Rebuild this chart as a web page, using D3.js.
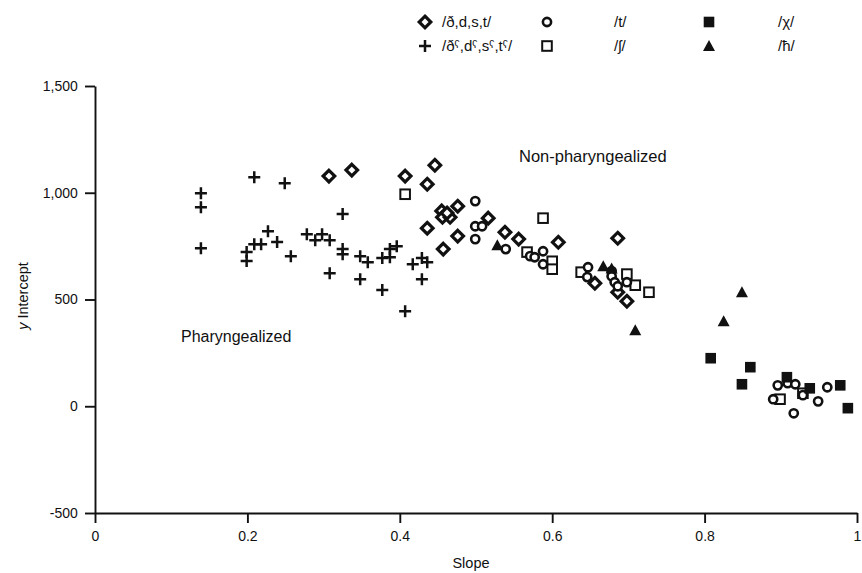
<!DOCTYPE html>
<html><head><meta charset="utf-8">
<script src="https://cdn.jsdelivr.net/npm/d3@7"></script>
<style>
html,body{margin:0;padding:0;background:#fff;}
text{font-family:"Liberation Sans",Arial,sans-serif;fill:#111;}
</style></head>
<body>
<svg id="c" width="862" height="573"></svg>
<script>
// ---- data: [slope, y intercept] ----
const plain = [ // /ð,d,s,t/ diamonds
 [0.307,1078],[0.337,1106],[0.407,1078],[0.446,1129],[0.436,1040],
 [0.455,915],[0.456,885],[0.466,885],[0.462,905],[0.476,937],
 [0.436,834],[0.476,797],[0.457,736],[0.516,881],[0.538,815],
 [0.556,783],[0.608,768],[0.686,787],[0.698,492],[0.656,576],[0.686,534]
];
const phar = [ // /ðˤ,dˤ,sˤ,tˤ/ pluses
 [0.139,998],[0.139,932],[0.139,740],[0.209,1073],[0.249,1045],
 [0.199,722],[0.199,680],[0.209,759],[0.218,759],[0.227,820],
 [0.239,769],[0.257,703],[0.278,806],[0.289,778],[0.298,806],
 [0.308,778],[0.325,900],[0.325,736],[0.325,712],[0.308,623],
 [0.348,703],[0.358,675],[0.348,595],[0.377,694],[0.387,736],
 [0.387,698],[0.396,750],[0.377,544],[0.407,445],[0.417,665],
 [0.429,694],[0.436,675],[0.429,595]
];
const tSer = [ // /t/ open circles
 [0.499,961],[0.499,843],[0.508,843],[0.499,783],[0.539,736],
 [0.571,703],[0.577,698],[0.588,726],[0.588,665],[0.647,651],
 [0.646,605],[0.678,633],[0.678,609],[0.682,581],[0.686,562],
 [0.698,581],[0.896,98],[0.909,108],[0.919,103],[0.890,33],
 [0.929,52],[0.949,23],[0.961,89],[0.917,-33]
];
const shSer = [ // /ʃ/ open squares
 [0.407,993],[0.588,881],[0.567,722],[0.600,679],[0.600,642],
 [0.638,628],[0.698,619],[0.709,567],[0.727,534],[0.899,33],[0.929,61]
];
const chiSer = [ // /χ/ filled squares
 [0.808,225],[0.860,183],[0.849,103],[0.908,136],[0.938,84],[0.978,98],[0.988,-9]
];
const hSer = [ // /ħ/ triangles
 [0.528,754],[0.667,656],[0.678,645],[0.709,356],[0.825,398],[0.849,534]
];
const xTicks = [0,0.2,0.4,0.6,0.8,1];
const xTickLabels = ["0","0.2","0.4","0.6","0.8","1"];
const yTicks = [-500,0,500,1000,1500];
const yTickLabels = ["-500","0","500","1,000","1,500"];
const legendItems = [
 {label:"/ð,d,s,t/", type:"diamond"},
 {label:"/t/", type:"circle"},
 {label:"/χ/", type:"fsquare"},
 {label:"/ðˤ,dˤ,sˤ,tˤ/", type:"plus"},
 {label:"/ʃ/", type:"osquare"},
 {label:"/ħ/", type:"triangle"}
];
// ---------------------------------------
const ink = "#111";
const svg = d3.select("#c");
const x = d3.scaleLinear().domain([0,1]).range([95,857]);
const y = d3.scaleLinear().domain([-500,1500]).range([513,86]);

const gx = svg.append("g").attr("transform","translate(0,513)")
  .call(d3.axisBottom(x).tickValues(xTicks).tickSize(10).tickSizeOuter(0)
    .tickFormat((d,i)=>xTickLabels[i]));
const gy = svg.append("g").attr("transform","translate(95,0)")
  .call(d3.axisLeft(y).tickValues(yTicks).tickSize(10).tickSizeOuter(0)
    .tickFormat((d,i)=>yTickLabels[i]));
[gx,gy].forEach(g=>{
  g.selectAll("path,line").attr("stroke",ink).attr("stroke-width",1.9);
  g.selectAll("text").attr("font-size",14).attr("fill",ink)
   .style("font-family","'Liberation Sans',Arial,sans-serif");
});
gx.selectAll("text").attr("dy","1.05em");
gy.selectAll("text").attr("dx","-0.3em");

svg.append("text").attr("x",471).attr("y",568).attr("text-anchor","middle")
  .attr("font-size",14.5).text("Slope");
const yl = svg.append("text").attr("transform","translate(28,296) rotate(-90)")
  .attr("text-anchor","middle").attr("font-size",14.5);
yl.append("tspan").attr("font-style","italic").text("y");
yl.append("tspan").text(" Intercept");

svg.append("text").attr("x",519).attr("y",162).attr("font-size",16.5).text("Non-pharyngealized");
svg.append("text").attr("x",181).attr("y",342).attr("font-size",16).text("Pharyngealized");

function drawMarker(g, type){
  if(type==="diamond"){
    g.append("path").attr("d","M0,-5.8L5.8,0L0,5.8L-5.8,0Z")
     .attr("fill","#fff").attr("stroke",ink).attr("stroke-width",3.2);
  } else if(type==="circle"){
    g.append("circle").attr("r",4.1).attr("fill","#fff").attr("stroke",ink).attr("stroke-width",2.6);
  } else if(type==="osquare"){
    g.append("rect").attr("x",-4.8).attr("y",-4.8).attr("width",9.6).attr("height",9.6)
     .attr("fill","#fff").attr("stroke",ink).attr("stroke-width",2);
  } else if(type==="fsquare"){
    g.append("rect").attr("x",-5.3).attr("y",-5.3).attr("width",10.6).attr("height",10.6).attr("fill",ink);
  } else if(type==="triangle"){
    g.append("path").attr("d","M0,-6L6,5L-6,5Z").attr("fill",ink);
  } else if(type==="plus"){
    g.append("path").attr("d","M-6,0H6M0,-6V6").attr("stroke",ink).attr("stroke-width",2.5);
  }
}
const series = [
  {data:phar,type:"plus"},{data:plain,type:"diamond"},{data:shSer,type:"osquare"},
  {data:tSer,type:"circle"},{data:chiSer,type:"fsquare"},{data:hSer,type:"triangle"}
];
series.forEach(s=>{
  svg.append("g").selectAll("g").data(s.data).join("g")
    .attr("transform",d=>`translate(${x(d[0])},${y(d[1])})`)
    .each(function(){ drawMarker(d3.select(this), s.type); });
});

// legend
const legPos = [[425,22],[547,22],[709,22],[425,46],[547,46],[709,46]];
const legTextX = [442,614,778,442,614,778];
legendItems.forEach((it,i)=>{
  const g = svg.append("g").attr("transform",`translate(${legPos[i][0]},${legPos[i][1]})`);
  drawMarker(g,it.type);
  svg.append("text").attr("x",legTextX[i]).attr("y",legPos[i][1]+5)
    .attr("font-size",15).text(it.label);
});
</script>
</body></html>
